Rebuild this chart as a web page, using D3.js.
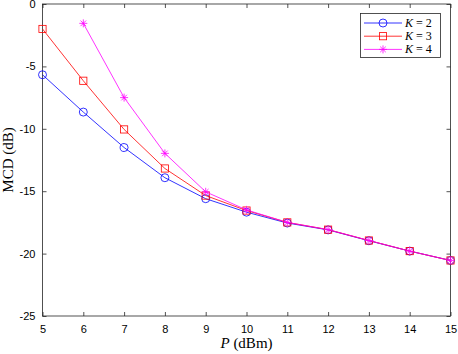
<!DOCTYPE html>
<html>
<head>
<meta charset="utf-8">
<script src="https://cdn.jsdelivr.net/npm/d3@7"></script>
<style>
  body { margin: 0; background: #fff; }
  svg { display: block; }
  .serif { font-family: "Liberation Serif", "DejaVu Serif", serif; }
</style>
</head>
<body>
<svg id="chart" width="458" height="354"></svg>
<script>
// values
const powers = [5, 6, 7, 8, 9, 10, 11, 12, 13, 14, 15];
const mcdK2 = [-5.67, -8.66, -11.5, -13.92, -15.6, -16.68, -17.55, -18.1, -18.97, -19.8, -20.55];
const mcdK3 = [-2.0, -6.15, -10.05, -13.18, -15.35, -16.55, -17.5, -18.08, -18.95, -19.8, -20.55];
const mcdK4 = [null, -1.55, -7.5, -11.97, -15.05, -16.5, -17.5, -18.08, -18.95, -19.8, -20.55];
const xTicks = [5, 6, 7, 8, 9, 10, 11, 12, 13, 14, 15];
const yTicks = [0, -5, -10, -15, -20, -25];
const seriesNames = ["2", "3", "4"];
const seriesColors = ["#0000ff", "#ff0000", "#ff00ff"];
const seriesMarkers = ["circle", "square", "asterisk"];

const svg = d3.select("#chart");
const mLeft = 42.5, mRight = 450.5, mTop = 4, mBottom = 316;
const axisCol = "#262626";
const tickFont = "Liberation Sans, Arial, sans-serif";

const x = d3.scaleLinear().domain([5, 15]).range([mLeft, mRight]);
const y = d3.scaleLinear().domain([-25, 0]).range([mBottom, mTop]);

// frame box
svg.append("rect")
  .attr("x", mLeft).attr("y", mTop)
  .attr("width", mRight - mLeft).attr("height", mBottom - mTop)
  .attr("fill", "none").attr("stroke", axisCol).attr("stroke-width", 0.8);

// axes with inward ticks
function styleAxis(g) {
  g.select(".domain").remove();
  g.selectAll("line").attr("stroke", axisCol).attr("stroke-width", 0.8);
  g.selectAll("text").attr("fill", "#000").attr("font-family", tickFont).attr("font-size", 11);
}
svg.append("g").attr("transform", `translate(0,${mBottom})`)
  .call(d3.axisBottom(x).tickValues(xTicks).tickSizeInner(-4).tickSizeOuter(0).tickPadding(9).tickFormat(d3.format("d")))
  .call(styleAxis);
svg.append("g").attr("transform", `translate(0,${mTop})`)
  .call(d3.axisTop(x).tickValues(xTicks).tickSizeInner(-4).tickSizeOuter(0).tickFormat(""))
  .call(styleAxis);
svg.append("g").attr("transform", `translate(${mLeft},0)`)
  .call(d3.axisLeft(y).tickValues(yTicks).tickSizeInner(-4).tickSizeOuter(0).tickPadding(7).tickFormat(d => String(d)))
  .call(styleAxis);
svg.append("g").attr("transform", `translate(${mRight},0)`)
  .call(d3.axisRight(y).tickValues(yTicks).tickSizeInner(-4).tickSizeOuter(0).tickFormat(""))
  .call(styleAxis);

// labels
svg.append("text").attr("class", "serif")
  .attr("transform", `translate(13,${(mTop + mBottom) / 2}) rotate(-90)`)
  .attr("text-anchor", "middle").attr("font-size", 15)
  .text("MCD (dB)");
const xl = svg.append("text").attr("class", "serif")
  .attr("x", (mLeft + mRight) / 2).attr("y", 348)
  .attr("text-anchor", "middle").attr("font-size", 15);
xl.append("tspan").attr("font-style", "italic").text("P");
xl.append("tspan").text(" (dBm)");

function drawMarker(g, kind, cx, cy, color) {
  if (kind === "circle") {
    g.append("circle").attr("cx", cx).attr("cy", cy).attr("r", 4)
      .attr("fill", "none").attr("stroke", color).attr("stroke-width", 0.8);
  } else if (kind === "square") {
    g.append("rect").attr("x", cx - 3.6).attr("y", cy - 3.6).attr("width", 7.2).attr("height", 7.2)
      .attr("fill", "none").attr("stroke", color).attr("stroke-width", 0.8);
  } else {
    const s = 4;
    const p = `M${cx - s},${cy}L${cx + s},${cy}M${cx},${cy - s}L${cx},${cy + s}` +
      `M${cx - s * 0.7},${cy - s * 0.7}L${cx + s * 0.7},${cy + s * 0.7}` +
      `M${cx - s * 0.7},${cy + s * 0.7}L${cx + s * 0.7},${cy - s * 0.7}`;
    g.append("path").attr("d", p).attr("stroke", color).attr("stroke-width", 0.8).attr("fill", "none");
  }
}

const allSeries = [mcdK2, mcdK3, mcdK4];
const line = d3.line()
  .defined(d => d[1] !== null)
  .x(d => x(d[0])).y(d => y(d[1]));

allSeries.forEach((vals, i) => {
  const pts = powers.map((p, j) => [p, vals[j]]);
  const g = svg.append("g");
  g.append("path").datum(pts).attr("d", line)
    .attr("fill", "none").attr("stroke", seriesColors[i]).attr("stroke-width", 0.8);
  pts.filter(d => d[1] !== null).forEach(d => drawMarker(g, seriesMarkers[i], x(d[0]), y(d[1]), seriesColors[i]));
});

// legend
const lg = svg.append("g");
lg.append("rect").attr("x", 360.5).attr("y", 13.5).attr("width", 80).attr("height", 44)
  .attr("fill", "#fff").attr("stroke", axisCol).attr("stroke-width", 0.8);
seriesNames.forEach((n, i) => {
  const ly = 23 + i * 13.2;
  lg.append("line").attr("x1", 364).attr("x2", 402).attr("y1", ly).attr("y2", ly)
    .attr("stroke", seriesColors[i]).attr("stroke-width", 0.8);
  drawMarker(lg, seriesMarkers[i], 383, ly, seriesColors[i]);
  const t = lg.append("text").attr("class", "serif").attr("x", 405).attr("y", ly + 4)
    .attr("font-size", 12);
  t.append("tspan").attr("font-style", "italic").text("K");
  t.append("tspan").text(" = " + n);
});
</script>
</body>
</html>
